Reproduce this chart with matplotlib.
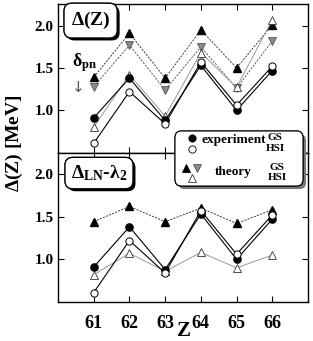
import matplotlib
matplotlib.use("Agg")
import matplotlib.pyplot as plt
from matplotlib.patches import FancyBboxPatch
from matplotlib.lines import Line2D
import matplotlib.patheffects as pe

plt.rcParams['font.family'] = ['Liberation Serif', 'DejaVu Serif']
plt.rcParams['font.weight'] = 'bold'
plt.rcParams['mathtext.fontset'] = 'custom'
plt.rcParams['mathtext.rm'] = 'Liberation Serif:bold'
plt.rcParams['mathtext.it'] = 'Liberation Serif:bold'
plt.rcParams['mathtext.bf'] = 'Liberation Serif:bold'
plt.rcParams['mathtext.default'] = 'rm'

Z = [61, 62, 63, 64, 65, 66]

# experiment (same in both panels)
exp_gs = [0.91, 1.38, 0.88, 1.53, 1.00, 1.47]
exp_hsi = [0.61, 1.22, 0.84, 1.57, 1.06, 1.52]

# top panel: Delta(Z) theory
top_th_gs = [1.39, 1.91, 1.38, 1.95, 1.50, 2.01]
top_th_gs_dpn = [1.28, 1.77, 1.24, 1.75, 1.26, 1.82]
top_th_hsi = [0.80, 1.42, 0.93, 1.68, 1.27, 2.07]

# bottom panel: Delta_LN - lambda_2 theory
bot_th_gs = [1.44, 1.62, 1.44, 1.60, 1.42, 1.58]
bot_th_hsi = [0.82, 1.07, 0.86, 1.08, 0.90, 1.05]

W, H = 313, 341
fig = plt.figure(figsize=(W / 100, H / 100), dpi=100)

def fx(x):
    return x / W

def fy(y):
    return 1 - y / H

left, right = fx(58), fx(308)
ax1 = fig.add_axes([left, fy(153), right - left, fy(4) - fy(153)])
ax2 = fig.add_axes([left, fy(302), right - left, fy(153) - fy(302)])

gray = '#8a8a8a'
for ax in (ax1, ax2):
    ax.set_xlim(60, 67)
    ax.set_xticks(Z)
    ax.set_yticks([1.0, 1.5, 2.0])
    ax.set_yticklabels(['1.0', '1.5', '2.0'], fontsize=11, fontweight='bold')
    ax.tick_params(direction='in', length=4, width=0.8, top=True, right=True, pad=3)
    ax.tick_params(axis='x', pad=9)
    for s in ax.spines.values():
        s.set_linewidth(1.0)

ax1.set_ylim(0.495, 2.256)
ax2.set_ylim(0.5, 2.245)
ax1.tick_params(labelbottom=False)
ax2.set_xticklabels([str(z) for z in Z], fontsize=13, fontweight='bold')

ms_c = 5.2
ms_t = 6.0

def exp_series(ax):
    ax.plot(Z, exp_gs, '-', color='black', lw=0.8, marker='o', ms=ms_c,
            mfc='black', mec='black', zorder=4)
    ax.plot(Z, exp_hsi, '-', color='black', lw=0.8, marker='o', ms=ms_c,
            mfc='white', mec='black', mew=0.7, zorder=5)

# top panel
ax1.plot(Z, top_th_gs, '--', color='#222222', lw=0.6, dashes=(2.5, 1.5),
         marker='^', ms=ms_t, mfc='black', mec='black', zorder=3)
ax1.plot(Z, top_th_gs_dpn, '--', color='#444444', lw=0.6, dashes=(2.5, 1.5),
         marker='v', ms=ms_t, mfc=gray, mec='#555555', mew=0.6, zorder=3)
ax1.plot(Z, top_th_hsi, '-', color='#9a9a9a', lw=0.7,
         marker='^', ms=ms_t, mfc='white', mec='#333333', mew=0.6, zorder=3)
exp_series(ax1)

# bottom panel
ax2.plot(Z, bot_th_gs, '--', color='#222222', lw=0.6, dashes=(2.5, 1.5),
         marker='^', ms=ms_t, mfc='black', mec='black', zorder=3)
ax2.plot(Z, bot_th_hsi, '-', color='#9a9a9a', lw=0.7,
         marker='^', ms=ms_t, mfc='white', mec='#333333', mew=0.6, zorder=3)
exp_series(ax2)

# panel labels with shadow boxes
shadow = [pe.withSimplePatchShadow(offset=(1.8, -1.8), shadow_rgbFace='black', alpha=1.0), pe.Normal()]
t1 = ax1.text(60.36, 2.06, r'$\Delta$(Z)', fontsize=14, fontweight='bold',
              ha='left', va='center', zorder=10,
              bbox=dict(boxstyle='round,pad=0.35,rounding_size=0.4', fc='white', ec='black', lw=0.9))
t1.get_bbox_patch().set_path_effects(shadow)
t2 = ax2.text(60.36, 2.01, r'$\Delta_{\mathrm{LN}}$-$\lambda_{2}$', fontsize=14, fontweight='bold',
              ha='left', va='center', zorder=10,
              bbox=dict(boxstyle='round,pad=0.3,rounding_size=0.4', fc='white', ec='black', lw=0.9))
t2.get_bbox_patch().set_path_effects(shadow)

# delta_pn annotation
fig.text(fx(72), fy(63), r'$\delta_{\mathrm{pn}}$', fontsize=13, ha='left', va='center')
fig.text(fx(78), fy(87), '\u2193', fontsize=11, ha='center', va='center', color='#555555',
         family=['DejaVu Sans'], fontweight='normal')

# legend box (figure coords)
lg = FancyBboxPatch((fx(175), fy(186)), fx(303) - fx(175), fy(131) - fy(186),
                    boxstyle='round,pad=0,rounding_size=0.02', transform=fig.transFigure,
                    fc='white', ec='black', lw=0.8, zorder=20)
lg.set_path_effects([pe.withSimplePatchShadow(offset=(2.2, -2.2), shadow_rgbFace='#777777', alpha=1.0), pe.Normal()])
fig.patches.append(lg)

def mk(x, y, m, fc, ec, ms):
    l = Line2D([fx(x)], [fy(y)], marker=m, ms=ms, mfc=fc, mec=ec, mew=0.6,
               ls='none', transform=fig.transFigure, zorder=21)
    fig.lines.append(l)

mk(192, 138, 'o', 'black', 'black', ms_c)
mk(192, 149, 'o', 'white', 'black', ms_c)
mk(186, 168, '^', 'black', 'black', ms_t)
mk(197, 168, 'v', gray, '#555555', ms_t)
mk(192, 178, '^', 'white', '#333333', ms_t)

fig.text(fx(202), fy(140), 'experiment', fontsize=9.5, ha='left', va='center', zorder=22)
fig.text(fx(275), fy(137), 'GS', fontsize=8, ha='center', va='center', zorder=22)
fig.text(fx(275), fy(148), 'HSI', fontsize=8, ha='center', va='center', zorder=22)
fig.text(fx(233), fy(172), 'theory', fontsize=9.5, ha='center', va='center', zorder=22)
fig.text(fx(277), fy(167), 'GS', fontsize=8, ha='center', va='center', zorder=22)
fig.text(fx(277), fy(178), 'HSI', fontsize=8, ha='center', va='center', zorder=22)

# axis labels
fig.text(fx(14), fy(143), r'$\Delta$(Z) [MeV]', fontsize=14, rotation=90,
         ha='center', va='center')
fig.text(fx(184), fy(331), 'Z', fontsize=15, ha='center', va='center')

fig.savefig('out.png', dpi=100)
